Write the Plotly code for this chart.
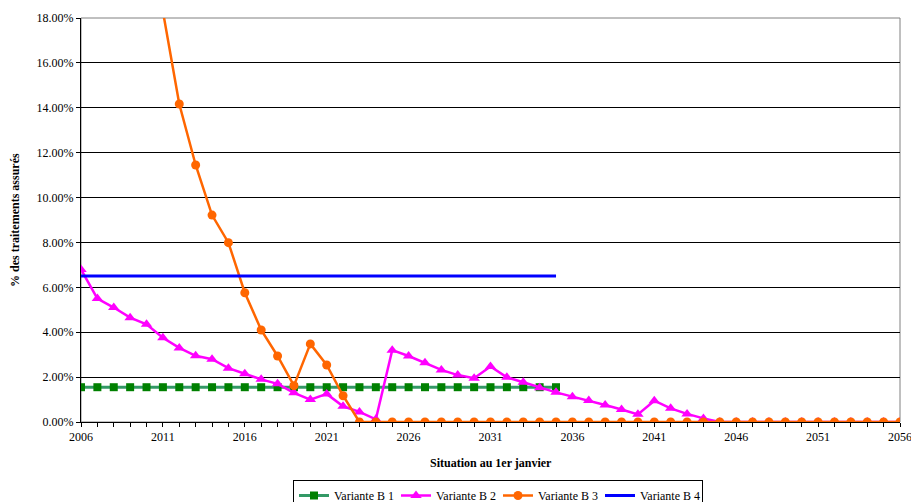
import plotly.graph_objects as go

# ---- data ----
years_b1 = list(range(2006, 2036))
b1 = [0.0155] * len(years_b1)

years_b2 = list(range(2006, 2057))
b2 = [0.068, 0.055, 0.051, 0.0465, 0.0435, 0.0375, 0.033, 0.0295, 0.028, 0.024,
      0.0215, 0.019, 0.017, 0.013, 0.010, 0.0125, 0.007, 0.0045, 0.0012, 0.032,
      0.0294, 0.0264, 0.0232, 0.0209, 0.0195, 0.0247, 0.0199, 0.0177, 0.0153, 0.0132,
      0.0113, 0.0096, 0.0076, 0.0056, 0.0034, 0.0095, 0.0061, 0.0036, 0.0016, 0.0,
      0.0, 0.0, 0.0, 0.0, 0.0, 0.0, 0.0, 0.0, 0.0, 0.0, 0.0]

years_b3 = list(range(2011, 2057))
b3 = [0.183, 0.1417, 0.1145, 0.0922, 0.0799, 0.0576, 0.041, 0.0294, 0.0162, 0.0348,
      0.0254, 0.0117] + [0.0] * 34

years_b4 = list(range(2006, 2036))
b4 = [0.065] * len(years_b4)

x_ticks = [2006, 2011, 2016, 2021, 2026, 2031, 2036, 2041, 2046, 2051, 2056]
y_ticks = [0.0, 0.02, 0.04, 0.06, 0.08, 0.10, 0.12, 0.14, 0.16, 0.18]

FONT = "Liberation Serif, Times New Roman, serif"

fig = go.Figure()
fig.add_trace(go.Scatter(x=years_b1, y=b1, name="Variante B 1", mode="lines+markers",
                         line=dict(color="#339966", width=3),
                         marker=dict(symbol="square", size=8, color="#008000")))
fig.add_trace(go.Scatter(x=years_b2, y=b2, name="Variante B 2", mode="lines+markers",
                         line=dict(color="#FF00FF", width=2.5),
                         marker=dict(symbol="triangle-up", size=10, color="#FF00FF")))
fig.add_trace(go.Scatter(x=years_b3, y=b3, name="Variante B 3", mode="lines+markers",
                         line=dict(color="#FF6600", width=2.5),
                         marker=dict(symbol="circle", size=9, color="#FF6600")))
fig.add_trace(go.Scatter(x=years_b4, y=b4, name="Variante B 4", mode="lines",
                         line=dict(color="#0000FF", width=3)))

fig.update_layout(
    width=911, height=502,
    margin=dict(l=81, r=11, t=18, b=80, autoexpand=False),
    paper_bgcolor="white", plot_bgcolor="white",
    font=dict(family=FONT, size=12, color="black"),
    showlegend=True,
    legend=dict(orientation="h", x=(293 - 81) / 819, xanchor="left",
                y=(422 - 480) / 404, yanchor="top",
                bgcolor="white", bordercolor="black", borderwidth=1,
                font=dict(family=FONT, size=12), itemwidth=30,
                entrywidth=57, entrywidthmode="pixels",
                tracegroupgap=0),
    shapes=[dict(type="rect", xref="paper", yref="paper", x0=0, y0=0, x1=1, y1=1,
                 line=dict(color="#808080", width=1), layer="below")],
    annotations=[
        dict(text="<b>Situation au 1er janvier</b>", xref="paper", yref="paper",
             x=0.5, y=(422 - 463) / 404, yanchor="middle", xanchor="center",
             showarrow=False, font=dict(family=FONT, size=12)),
        dict(text="<b>% des traitements assurés</b>", xref="paper", yref="paper",
             x=0, xshift=-66, y=0.5, textangle=-90, showarrow=False,
             xanchor="center", yanchor="middle", font=dict(family=FONT, size=12)),
        dict(text=str(x_ticks[-1]), xref="x", yref="paper", x=x_ticks[-1], y=0,
             yanchor="top", xanchor="center", yshift=-6, showarrow=False,
             font=dict(family=FONT, size=12)),
    ],
)

fig.update_xaxes(range=[2006, 2056], tickvals=x_ticks, ticks="outside", ticklen=4,
                 tickcolor="black", showgrid=False, zeroline=False, automargin=False,
                 showline=True, linecolor="black", linewidth=1,
                 tickfont=dict(family=FONT, size=12),
                 minor=dict(tick0=2006, dtick=1, ticks="outside", ticklen=4,
                            tickcolor="black", showgrid=False))
fig.update_yaxes(range=[0, 0.18], tickvals=y_ticks, tickformat=".2%", ticks="outside",
                 ticklen=4, tickcolor="black", showgrid=True, gridcolor="black",
                 gridwidth=1, zeroline=False, showline=True, linecolor="black",
                 linewidth=1, automargin=False, tickfont=dict(family=FONT, size=12))

fig.write_html("out.html", config={"displayModeBar": False},
               post_script="document.body.style.margin='0';document.body.style.overflow='hidden';")
